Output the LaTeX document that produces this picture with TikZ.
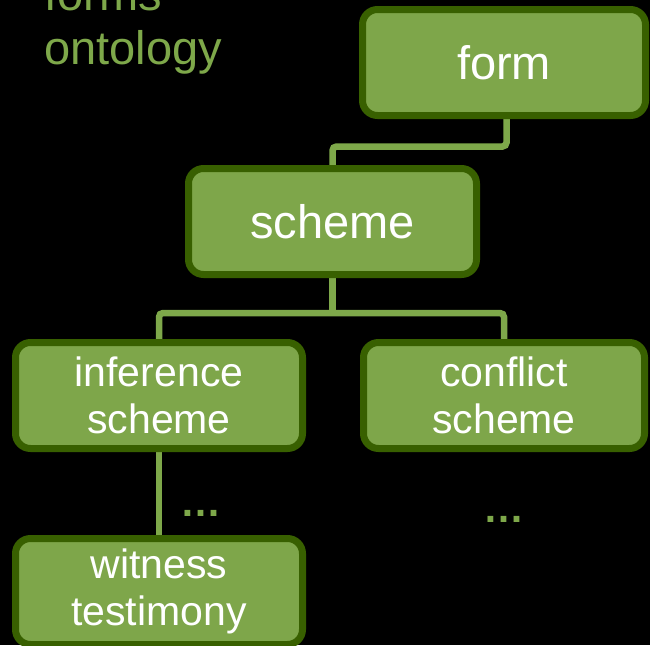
\documentclass[tikz,border=0pt]{standalone}
\usepackage{fontspec}
\setmainfont{Liberation Sans}
\usetikzlibrary{backgrounds}

\definecolor{leaf}{HTML}{7EA64A}
\definecolor{bark}{HTML}{386000}
\definecolor{twig}{HTML}{7EA84A}

\tikzset{
  box/.style={draw=bark, fill=leaf, line width=7pt, rounded corners=15pt,
    inner sep=0pt, text=white, align=center},
  wide/.style={box, font=\fontsize{47}{54}\selectfont},
  narrow/.style={box, font=\fontsize{41}{47}\selectfont},
  conn/.style={draw=twig, line width=6.5pt, rounded corners=4pt},
  more/.style={text=twig, inner sep=0pt, font=\bfseries\fontsize{41}{47}\selectfont}
}

\begin{document}
\begin{tikzpicture}[x=1pt, y=-1pt]
  \useasboundingbox (0,0) rectangle (650,645);
  \clip (0,0) rectangle (650,645);

  % hierarchy of nodes
  \node[wide, minimum width=283pt, minimum height=106pt] (form) at (504,62.5) {form};
  \node[wide, minimum width=288pt, minimum height=106pt] (scheme) at (332.5,221.5) {scheme};
  \node[narrow, minimum width=287pt, minimum height=106pt] (inf) at (159,395.5) {inference\\scheme};
  \node[narrow, minimum width=281pt, minimum height=106pt] (conf) at (504,395.5) {conflict\\scheme};
  \node[narrow, minimum width=287pt, minimum height=106pt] (wit) at (159,591.5) {witness\\testimony};

  % heading
  \node[text=twig, inner sep=0pt, anchor=south west, align=left,
        font=\fontsize{47}{54}\selectfont] (title) at (44,74) {forms\\ontology};

  % elided siblings
  \node[more, anchor=base] (dotsl) at (201,516) {…};
  \node[more, anchor=base] (dotsr) at (504,522) {…};

  \begin{scope}[on background layer]
    \fill[black] (0,0) rectangle (650,645);
  \end{scope}
  \begin{scope}[on background layer]
    \draw[conn] ([xshift=2.5pt]form.south) -- ++(0,27.5) -| (scheme.north);
    \draw[conn] (scheme.south) -- ++(0,35) coordinate (split);
    \draw[conn] (inf.north) |- (conf.north |- split) -- (conf.north);
    \draw[conn] (inf.south) -- (wit.north);
  \end{scope}
\end{tikzpicture}
\end{document}
